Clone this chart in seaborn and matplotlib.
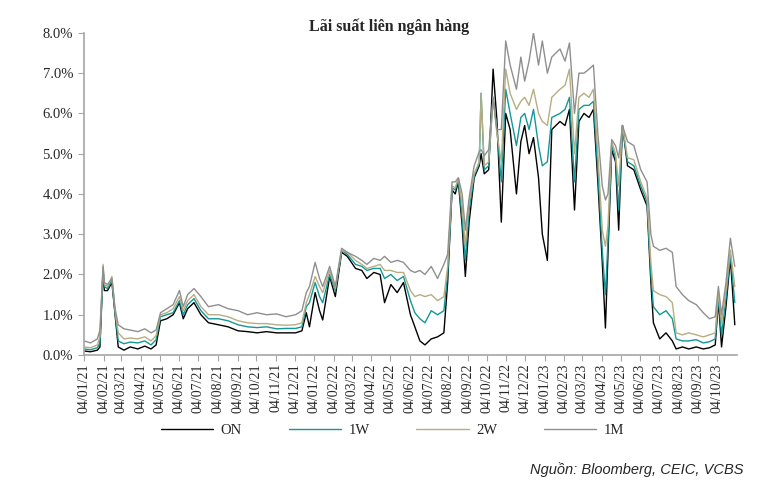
import pandas as pd
import matplotlib
matplotlib.use("Agg")
import matplotlib.pyplot as plt
import matplotlib.dates as mdates
from matplotlib.ticker import FuncFormatter
import seaborn as sns

# Ngày quan sát (đọc gần đúng từ biểu đồ)
dates = [
    "2021-01-04", "2021-01-14", "2021-01-25", "2021-01-29", "2021-02-03", "2021-02-05",
    "2021-02-10", "2021-02-17", "2021-02-22", "2021-02-27", "2021-03-08", "2021-03-18",
    "2021-03-30", "2021-04-10", "2021-04-20", "2021-04-28", "2021-05-05", "2021-05-15",
    "2021-05-25", "2021-06-04", "2021-06-10", "2021-06-17", "2021-06-27", "2021-07-08",
    "2021-07-20", "2021-08-05", "2021-08-20", "2021-09-05", "2021-09-20", "2021-10-05",
    "2021-10-20", "2021-11-05", "2021-11-20", "2021-12-05", "2021-12-15", "2021-12-22",
    "2021-12-27", "2022-01-05", "2022-01-12", "2022-01-17", "2022-01-28", "2022-02-06",
    "2022-02-16", "2022-02-25", "2022-03-10", "2022-03-20", "2022-03-28", "2022-04-08",
    "2022-04-18", "2022-04-25", "2022-05-05", "2022-05-15", "2022-05-25", "2022-06-05",
    "2022-06-12", "2022-06-20", "2022-06-28", "2022-07-08", "2022-07-18", "2022-07-28",
    "2022-08-03", "2022-08-10", "2022-08-15", "2022-08-20", "2022-08-26", "2022-08-31",
    "2022-09-06", "2022-09-14", "2022-09-22", "2022-09-25", "2022-09-30", "2022-10-07",
    "2022-10-14", "2022-10-20", "2022-10-27", "2022-11-03", "2022-11-10", "2022-11-20",
    "2022-11-27", "2022-12-03", "2022-12-10", "2022-12-17", "2022-12-25", "2022-12-31",
    "2023-01-08", "2023-01-15", "2023-01-28", "2023-02-05", "2023-02-12", "2023-02-20",
    "2023-02-27", "2023-03-07", "2023-03-15", "2023-03-22", "2023-03-29", "2023-04-05",
    "2023-04-10", "2023-04-14", "2023-04-20", "2023-04-26", "2023-05-01", "2023-05-07",
    "2023-05-15", "2023-05-25", "2023-06-05", "2023-06-15", "2023-06-21", "2023-06-25",
    "2023-07-05", "2023-07-15", "2023-07-25", "2023-07-31", "2023-08-10", "2023-08-20",
    "2023-09-01", "2023-09-12", "2023-09-22", "2023-10-01", "2023-10-06", "2023-10-11",
    "2023-10-18", "2023-10-25", "2023-11-01",
]

on = [
    0.10, 0.08, 0.12, 0.20, 2.10, 1.60, 1.60, 1.80, 1.00, 0.20, 0.12, 0.20,
    0.15, 0.22, 0.15, 0.25, 0.85, 0.90, 1.00, 1.30, 0.90, 1.15, 1.30, 1.00,
    0.80, 0.75, 0.70, 0.60, 0.58, 0.55, 0.58, 0.55, 0.55, 0.55, 0.60, 1.05,
    0.70, 1.55, 1.10, 0.87, 1.95, 1.45, 2.55, 2.45, 2.15, 2.10, 1.90, 2.05,
    2.00, 1.30, 1.75, 1.55, 1.80, 1.00, 0.70, 0.35, 0.25, 0.40, 0.45, 0.55,
    1.80, 4.10, 4.00, 4.30, 3.20, 1.95, 3.30, 4.40, 4.70, 5.00, 4.50, 4.60,
    7.10, 5.85, 3.30, 6.00, 5.60, 4.00, 5.30, 5.70, 5.00, 5.40, 4.40, 3.00,
    2.35, 5.60, 5.80, 5.70, 6.10, 3.60, 5.80, 6.00, 5.90, 6.10, 4.30, 2.30,
    0.67, 2.50, 5.10, 4.80, 3.10, 5.70, 4.70, 4.60, 4.10, 3.70, 1.80, 0.80,
    0.40, 0.55, 0.35, 0.15, 0.20, 0.15, 0.20, 0.15, 0.18, 0.25, 1.35, 0.20,
    1.20, 2.40, 0.75,
]

w1 = [
    0.15, 0.13, 0.18, 0.30, 2.15, 1.70, 1.65, 1.85, 1.05, 0.35, 0.28, 0.32,
    0.30, 0.35, 0.25, 0.38, 0.95, 1.00, 1.05, 1.35, 1.00, 1.25, 1.40, 1.10,
    0.90, 0.90, 0.85, 0.75, 0.70, 0.68, 0.70, 0.65, 0.66, 0.66, 0.70, 1.20,
    1.30, 1.80, 1.45, 1.30, 2.00, 1.60, 2.60, 2.50, 2.25, 2.20, 2.10, 2.15,
    2.15, 1.90, 2.00, 1.85, 1.95, 1.35, 1.05, 0.90, 0.80, 1.10, 1.00, 1.10,
    2.00, 4.15, 4.10, 4.35, 3.40, 2.35, 3.60, 4.45, 4.75, 6.50, 4.60, 4.70,
    6.40, 5.60, 4.30, 6.60, 6.00, 5.20, 5.90, 6.00, 5.60, 6.10, 5.20, 4.70,
    4.80, 5.90, 6.00, 6.10, 6.40, 4.30, 6.10, 6.20, 6.20, 6.30, 4.60, 2.60,
    1.50, 2.80, 5.20, 4.90, 3.60, 5.70, 4.80, 4.70, 4.20, 3.80, 2.00, 1.20,
    1.00, 1.10, 0.90, 0.40, 0.35, 0.35, 0.38, 0.30, 0.33, 0.40, 1.45, 0.50,
    1.40, 2.50, 1.30,
]

w2 = [
    0.20, 0.18, 0.25, 0.45, 2.25, 1.75, 1.70, 1.95, 1.10, 0.55, 0.40, 0.42,
    0.40, 0.45, 0.35, 0.48, 1.00, 1.05, 1.15, 1.45, 1.10, 1.35, 1.50, 1.20,
    1.00, 1.00, 0.95, 0.85, 0.80, 0.78, 0.78, 0.75, 0.74, 0.75, 0.80, 1.30,
    1.50, 1.95, 1.70, 1.55, 2.10, 1.65, 2.60, 2.55, 2.35, 2.25, 2.15, 2.20,
    2.25, 2.10, 2.10, 2.05, 2.05, 1.60, 1.45, 1.50, 1.45, 1.50, 1.35, 1.45,
    2.20, 4.20, 4.15, 4.40, 3.70, 2.70, 3.80, 4.50, 4.80, 6.50, 4.70, 4.80,
    6.40, 5.50, 4.80, 7.10, 6.50, 6.10, 6.30, 6.40, 6.20, 6.60, 6.00, 5.80,
    5.70, 6.40, 6.60, 6.70, 7.10, 5.00, 6.40, 6.50, 6.40, 6.60, 5.00, 3.10,
    2.70, 3.20, 5.30, 5.00, 4.20, 5.70, 4.90, 4.85, 4.30, 3.90, 2.30, 1.60,
    1.50, 1.45, 1.30, 0.55, 0.50, 0.55, 0.50, 0.45, 0.50, 0.55, 1.55, 0.80,
    1.60, 2.60, 1.70,
]

m1 = [
    0.35, 0.30, 0.40, 0.62, 2.20, 1.80, 1.75, 1.90, 1.15, 0.75, 0.65, 0.62,
    0.58, 0.65, 0.55, 0.62, 1.05, 1.15, 1.25, 1.60, 1.20, 1.50, 1.65, 1.45,
    1.20, 1.25, 1.15, 1.10, 1.00, 1.05, 1.00, 1.02, 0.95, 1.00, 1.10, 1.55,
    1.70, 2.30, 1.90, 1.70, 2.20, 1.70, 2.65, 2.55, 2.45, 2.35, 2.25, 2.40,
    2.35, 2.45, 2.30, 2.35, 2.30, 2.10, 2.05, 2.10, 2.00, 2.20, 1.90, 2.25,
    2.50, 4.30, 4.30, 4.40, 4.00, 3.10, 3.90, 4.70, 5.05, 5.10, 4.95, 5.10,
    6.40, 5.60, 5.60, 7.80, 7.20, 6.60, 7.40, 6.80, 7.30, 8.00, 7.20, 7.80,
    7.00, 7.40, 7.60, 7.30, 7.75, 6.00, 7.00, 7.00, 7.10, 7.20, 5.50, 4.20,
    3.85, 4.00, 5.35, 5.20, 4.90, 5.70, 5.30, 5.20, 4.60, 4.30, 3.00, 2.70,
    2.60, 2.65, 2.55, 1.70, 1.50, 1.35, 1.25, 1.05, 0.90, 0.95, 1.70, 1.00,
    1.80, 2.90, 2.20,
]

series_names = ["ON", "1W", "2W", "1M"]
colors = ["#000000", "#139797", "#b7ad82", "#8f8f8f"]

df = pd.DataFrame({"date": pd.to_datetime(dates), "ON": on, "1W": w1, "2W": w2, "1M": m1})
long_df = df.melt(id_vars="date", var_name="series", value_name="rate")

sns.set_style("white")
plt.rcParams["font.family"] = ["Liberation Serif", "DejaVu Serif"]

fig = plt.figure(figsize=(7.65, 4.91), dpi=100)
ax = fig.add_axes([0.110, 0.277, 0.853, 0.656])

sns.lineplot(data=long_df, x="date", y="rate", hue="series", hue_order=series_names,
             palette=colors, linewidth=1.0, ax=ax, legend=False)

ax.set_ylim(0, 8)
ax.set_yticks(range(0, 9))
ax.yaxis.set_major_formatter(FuncFormatter(lambda v, p: f"{v:.1f}%"))
ax.set_xlim(pd.Timestamp("2021-01-04"), pd.Timestamp("2023-11-04"))

# ngày 04 của mỗi tháng
month_ticks = pd.date_range("2021-01-01", "2023-10-01", freq="MS") + pd.Timedelta(days=3)
ax.set_xticks(month_ticks)
ax.xaxis.set_major_formatter(mdates.DateFormatter("%d/%m/%y"))
plt.setp(ax.get_xticklabels(), rotation=90)

ax.set_xlabel("")
ax.set_ylabel("")
ax.tick_params(axis="x", labelsize=10, length=4, color="#a6a6a6", direction="out", bottom=True, pad=2)
ax.tick_params(axis="y", labelsize=10.5, length=4, color="#a6a6a6", direction="out", left=True, pad=4)
for side in ["top", "right"]:
    ax.spines[side].set_visible(False)
for side in ["left", "bottom"]:
    ax.spines[side].set_color("#a6a6a6")
    ax.spines[side].set_linewidth(1.2)

fig.text(0.509, 0.945, "Lãi suất liên ngân hàng", ha="center", va="center",
         fontsize=11.5, fontweight="bold")

handles = [plt.Line2D([], [], color=c, linewidth=1.0) for c in colors]
fig.legend(handles, series_names, loc="center", bbox_to_anchor=(0.513, 0.123), ncol=4,
           frameon=False, fontsize=10.5, handlelength=3.6, columnspacing=3.2, handletextpad=0.5)

fig.text(0.972, 0.043, "Nguồn: Bloomberg, CEIC, VCBS", ha="right", va="center",
         fontsize=10.5, style="italic", family="Liberation Sans")

fig.savefig("out.png", dpi=100)
